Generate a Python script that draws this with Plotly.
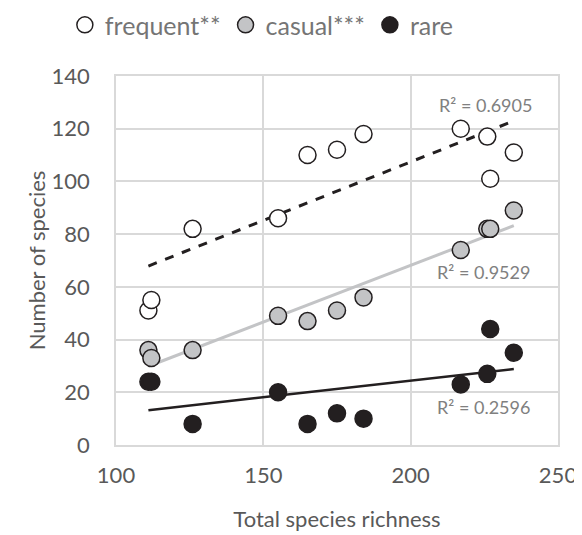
import numpy as np
import plotly.graph_objects as go

total = [111, 112, 126, 155, 165, 175, 184, 217, 226, 227, 235]
frequent = [51, 55, 82, 86, 110, 112, 118, 120, 117, 101, 111]
casual = [36, 33, 36, 49, 47, 51, 56, 74, 82, 82, 89]
rare = [24, 24, 8, 20, 8, 12, 10, 23, 27, 44, 35]
series_names = ["frequent**", "casual***", "rare"]
r2_labels = ["R² = 0.6905", "R² = 0.9529", "R² = 0.2596"]
r2_pos = [(225.5, 129), (224.7, 65.7), (224.7, 14.5)]

fills = ["#ffffff", "#c3c4c6", "#231f20"]
line_styles = [dict(color="#231f20", width=3, dash="dash"),
               dict(color="#c3c4c6", width=3),
               dict(color="#231f20", width=2.5)]

FONT = "Lato"
fig = go.Figure()
x = np.array(total, dtype=float)
for name, ys, fc, ls in zip(series_names, [frequent, casual, rare], fills, line_styles):
    y = np.array(ys, dtype=float)
    m, b = np.polyfit(x, y, 1)
    xs = np.array([x.min(), x.max()])
    fig.add_trace(go.Scatter(x=xs, y=m * xs + b, mode="lines", line=ls,
                             showlegend=False, hoverinfo="skip"))
for name, ys, fc in zip(series_names, [frequent, casual, rare], fills):
    fig.add_trace(go.Scatter(x=total, y=ys, mode="markers", name=name,
                             marker=dict(size=17, color=fc,
                                         line=dict(color="#231f20", width=1.5))))

for txt, (ax, ay) in zip(r2_labels, r2_pos):
    fig.add_annotation(x=ax, y=ay, text=txt, showarrow=False,
                       font=dict(size=18, color="#808080", family=FONT))

fig.update_layout(
    width=574, height=527,
    margin=dict(l=108, r=24, t=68, b=90, autoexpand=False),
    paper_bgcolor="white", plot_bgcolor="white",
    font=dict(family=FONT, color="#595959"),
    legend=dict(orientation="h", x=0.33, xanchor="center", y=1.138, yanchor="middle",
                yref="paper", font=dict(size=25, color="#757575", family=FONT),
                itemwidth=30, tracegroupgap=0),
    xaxis=dict(range=[100, 250], dtick=50, showgrid=True, gridcolor="#d9d9d9",
               gridwidth=1.5, showline=True, linecolor="#d9d9d9", linewidth=1.5,
               mirror=True, zeroline=False, ticks="", ticklabelstandoff=10,
               automargin=False,
               tickfont=dict(size=22, color="#595959"),
               title=dict(text="Total species richness", font=dict(size=22, color="#595959"),
                          standoff=24)),
    yaxis=dict(range=[0, 140], dtick=20, showgrid=True, gridcolor="#d9d9d9",
               gridwidth=1.5, showline=True, linecolor="#d9d9d9", linewidth=1.5,
               mirror=True, zeroline=False, ticks="", ticklabelstandoff=20,
               automargin=False,
               tickfont=dict(size=22, color="#595959"),
               title=dict(text="Number of species", font=dict(size=22, color="#595959"),
                          standoff=0)),
)
fig.write_html("out.html")
